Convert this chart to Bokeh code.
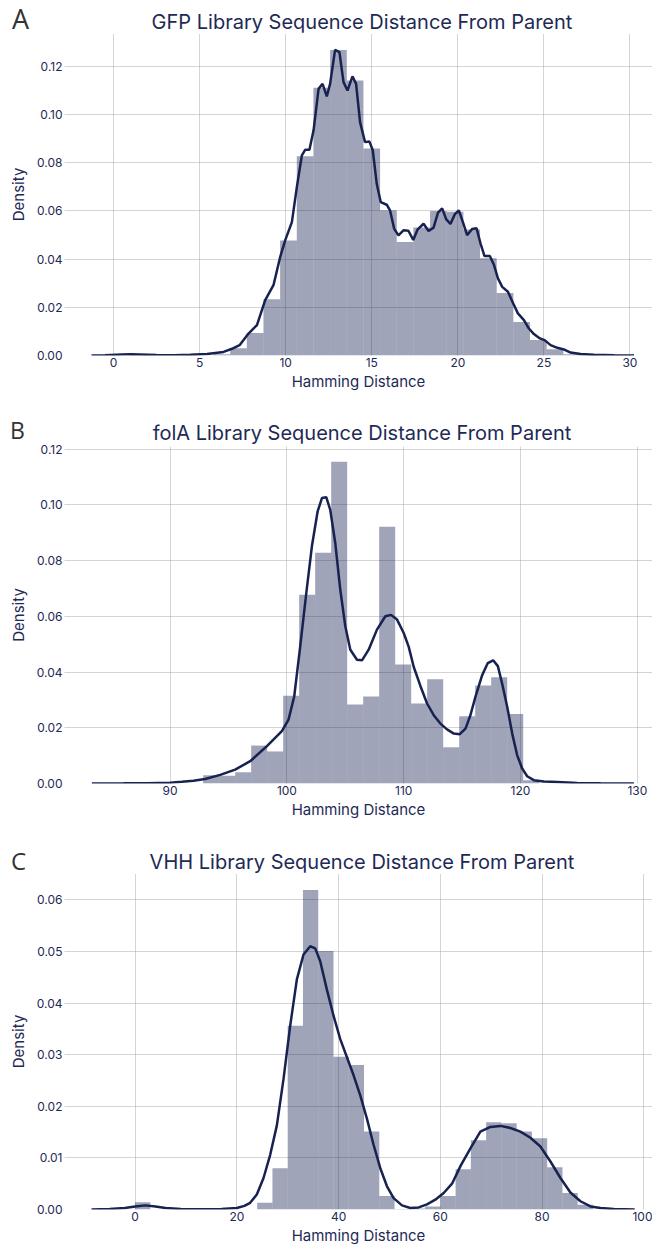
import numpy as np
from bokeh.plotting import figure
from bokeh.layouts import column
from bokeh.models import Range1d, FixedTicker, PrintfTickFormatter, Div
from bokeh.embed import file_html
from bokeh.resources import INLINE

# ---------------- Panel A: GFP ----------------
gfp_title = "GFP Library Sequence Distance From Parent"
gfp_bin_min, gfp_bin_max, gfp_n_bins = 0.0, 30.0, 31
gfp_density = [0.0, 0.0004, 0.0, 0.0, 0.0, 0.0, 0.0005, 0.0030, 0.0093, 0.0234,
               0.0478, 0.0827, 0.1112, 0.1269, 0.1142, 0.0860, 0.0603, 0.0471,
               0.0531, 0.0600, 0.0597, 0.0523, 0.0404, 0.0259, 0.0139, 0.0064,
               0.0026, 0.0005, 0.0002, 0.0, 0.0001]
gfp_kde_x = [-1.28, -0.5, 0.5, 1.0, 1.5, 2.5, 3.5, 4.46, 5.43, 6.39,
             6.88, 7.32, 7.84, 8.33, 8.81, 9.29, 9.68, 9.97, 10.36, 10.65,
             10.94, 11.13, 11.38, 11.62, 11.91, 12.14, 12.39, 12.58, 12.87, 13.12,
             13.36, 13.59, 13.88, 14.09, 14.32, 14.61, 14.86, 15.06, 15.29, 15.52,
             15.87, 16.06, 16.30, 16.55, 16.84, 17.13, 17.41, 17.67, 18.01, 18.30,
             18.59, 18.85, 19.09, 19.32, 19.57, 19.83, 20.06, 20.31, 20.54, 20.83,
             21.09, 21.32, 21.55, 21.86, 22.09, 22.33, 22.58, 22.91, 23.22, 23.49,
             23.84, 24.13, 24.42, 24.77, 25.04, 25.39, 25.78, 26.16, 26.55, 27.13,
             27.91, 29.07, 30.24]
gfp_kde_y = [0.0, 0.0001, 0.0004, 0.0005, 0.0004, 0.0002, 0.0001, 0.0003, 0.0006, 0.0015,
             0.0028, 0.0043, 0.0091, 0.0126, 0.0230, 0.0292, 0.0409, 0.0478, 0.0554, 0.0700,
             0.0831, 0.0854, 0.0854, 0.0935, 0.1107, 0.1128, 0.1076, 0.1128, 0.1269, 0.1260,
             0.1135, 0.1100, 0.1159, 0.1128, 0.0969, 0.0886, 0.0889, 0.0852, 0.0713, 0.0637,
             0.0626, 0.0603, 0.0527, 0.0499, 0.0520, 0.0518, 0.0480, 0.0524, 0.0547, 0.0517,
             0.0531, 0.0593, 0.0611, 0.0566, 0.0546, 0.0587, 0.0602, 0.0551, 0.0500, 0.0525,
             0.0528, 0.0465, 0.0413, 0.0413, 0.0378, 0.0320, 0.0285, 0.0265, 0.0216, 0.0175,
             0.0147, 0.0112, 0.0089, 0.0071, 0.0064, 0.0043, 0.0032, 0.0025, 0.0012, 0.0006,
             0.0003, 0.0001, 0.0]
gfp_xticks = [0, 5, 10, 15, 20, 25, 30]
gfp_yticks = [0.0, 0.02, 0.04, 0.06, 0.08, 0.10, 0.12]

# ---------------- Panel B: folA ----------------
fola_title = "folA Library Sequence Distance From Parent"
fola_bin_min, fola_bin_max, fola_n_bins = 92.83, 121.6, 21
fola_density = [0.0030, 0.0028, 0.0040, 0.0136, 0.0115, 0.0315, 0.0677, 0.0828,
                0.1154, 0.0283, 0.0312, 0.0921, 0.0427, 0.0287, 0.0374, 0.0130,
                0.0241, 0.0352, 0.0381, 0.0249, 0.0012]
fola_kde_x = [83.3, 86, 88, 90, 91, 92, 93, 94.29, 95.57, 96.86,
              98.29, 99.57, 100.14, 100.63, 101.14, 101.66, 102.14, 102.63, 103.0, 103.37,
              103.71, 104.14, 104.57, 105.0, 105.43, 106.0, 106.43, 107.0, 107.71, 108.43,
              108.91, 109.43, 110.0, 110.43, 110.86, 111.43, 112.0, 112.57, 113.14, 113.71,
              114.29, 114.8, 115.29, 115.71, 116.14, 116.71, 117.2, 117.66, 118.06, 118.43,
              118.86, 119.29, 119.71, 120.14, 120.57, 121.14, 122.0, 123.14, 124.86, 126.86,
              129.71]
fola_kde_y = [0.0, 0.00005, 0.0001, 0.0003, 0.0006, 0.0010, 0.0016, 0.0031, 0.0050, 0.0080,
              0.0134, 0.0188, 0.0229, 0.0313, 0.0492, 0.0683, 0.0851, 0.0976, 0.1024, 0.1027,
              0.0982, 0.0863, 0.0695, 0.0564, 0.0480, 0.0444, 0.0442, 0.0480, 0.0552, 0.0600,
              0.0605, 0.0588, 0.0540, 0.0490, 0.0418, 0.0350, 0.0287, 0.0245, 0.0215, 0.0194,
              0.0179, 0.0177, 0.0197, 0.0245, 0.0311, 0.0388, 0.0432, 0.0442, 0.0421, 0.0358,
              0.0275, 0.0179, 0.0102, 0.0054, 0.0026, 0.0012, 0.0007, 0.0005, 0.0002, 0.0001,
              0.0]
fola_xticks = [90, 100, 110, 120, 130]
fola_yticks = [0.0, 0.02, 0.04, 0.06, 0.08, 0.10, 0.12]

# ---------------- Panel C: VHH ----------------
vhh_title = "VHH Library Sequence Distance From Parent"
vhh_bin_min, vhh_bin_max, vhh_n_bins = 0.0, 90.0, 30
vhh_density = [0.0014, 0.0, 0.0, 0.0, 0.0, 0.0, 0.0, 0.0, 0.0013, 0.0080,
               0.0356, 0.0619, 0.0501, 0.0296, 0.0280, 0.0151, 0.0026, 0.0001,
               0.0002, 0.0006, 0.0026, 0.0078, 0.0134, 0.0169, 0.0167, 0.0151,
               0.0138, 0.0082, 0.0032, 0.0009]
vhh_kde_x = [-8.56, -5, -2, 0, 2, 4, 6, 9, 13, 17,
             20, 21.5, 22.62, 23.93, 25.25, 26.56, 27.87, 29.18, 30.49, 31.8,
             33.11, 34.43, 35.41, 36.39, 37.7, 39.02, 40.33, 41.64, 42.95, 44.26,
             45.57, 46.89, 48.2, 49.51, 50.82, 52.46, 54.1, 55.74, 57.38, 59.02,
             60.66, 62.3, 64.0, 66.0, 67.87, 69.84, 71.8, 73.77, 75.74, 77.7,
             79.67, 81.64, 83.61, 85.57, 87.54, 89.51, 91.48, 94.1, 98.2]
vhh_kde_y = [0.0, 0.0001, 0.0003, 0.0006, 0.0008, 0.0006, 0.0003, 0.0001, 0.00005, 0.0001,
             0.0003, 0.0007, 0.0013, 0.0029, 0.0061, 0.0106, 0.0163, 0.0253, 0.0356, 0.0446,
             0.0494, 0.0510, 0.0506, 0.0481, 0.0426, 0.0375, 0.0330, 0.0295, 0.0260, 0.0221,
             0.0176, 0.0125, 0.0080, 0.0045, 0.0022, 0.0008, 0.0003, 0.0004, 0.0010, 0.0019,
             0.0032, 0.0050, 0.0085, 0.0120, 0.0151, 0.0160, 0.0162, 0.0158, 0.0151, 0.0139,
             0.0122, 0.0093, 0.0061, 0.0033, 0.0016, 0.0006, 0.0003, 0.0001, 0.0]
vhh_xticks = [0, 20, 40, 60, 80, 100]
vhh_yticks = [0.0, 0.01, 0.02, 0.03, 0.04, 0.05, 0.06]

# ---------------- styling ----------------
NAVY = "#172250"
TEXT = "#1e2a55"
BAR = "#0f1c4d"
FONT = "Inter"
W = 652


def header(height, letter, letter_size, letter_left, letter_top, title, title_top):
    html = (
        f'<div style="position:relative;width:{W}px;height:{height}px;overflow:visible;">'
        f'<div style="position:absolute;left:{letter_left}px;top:{letter_top}px;'
        f'font-family:\'Open Sans\';font-size:{letter_size}px;line-height:1;color:#333333;'
        f'white-space:nowrap;">{letter}</div>'
        f'<div style="position:absolute;left:62px;width:600px;text-align:center;top:{title_top}px;'
        f'font-family:{FONT};font-size:20px;line-height:1;color:{TEXT};white-space:nowrap;">'
        f'{title}</div></div>'
    )
    return Div(text=html, width=W, height=height, margin=(0, 0, 0, 0),
               styles={"overflow": "visible"})


def make_panel(height, b_top, b_bottom, xr, yr, xticks, yticks,
               bmin, bmax, nbins, dens, kx, ky):
    p = figure(width=W, height=height, output_backend="svg", toolbar_location=None,
               x_range=Range1d(*xr), y_range=Range1d(*yr), title=None,
               min_border_left=64, min_border_right=0,
               min_border_top=b_top, min_border_bottom=b_bottom)
    edges = np.linspace(bmin, bmax, nbins + 1)
    p.quad(left=edges[:-1], right=edges[1:], bottom=0, top=dens,
           fill_color=BAR, fill_alpha=0.4, line_color=None)
    p.line(kx, ky, line_color=NAVY, line_width=2.5)

    p.xaxis.ticker = FixedTicker(ticks=xticks)
    p.yaxis.ticker = FixedTicker(ticks=yticks)
    p.yaxis.formatter = PrintfTickFormatter(format="%.2f")
    for ax in (p.xaxis, p.yaxis):
        ax.axis_line_color = None
        ax.major_tick_line_color = None
        ax.minor_tick_line_color = None
        ax.major_tick_out = 0
        ax.major_tick_in = 0
        ax.minor_tick_out = 0
        ax.minor_tick_in = 0
        ax.major_label_text_font = FONT
        ax.major_label_text_font_size = "12px"
        ax.major_label_text_color = TEXT
        ax.axis_label_text_font = FONT
        ax.axis_label_text_font_size = "15px"
        ax.axis_label_text_font_style = "normal"
        ax.axis_label_text_color = TEXT
        ax.major_label_standoff = 2
    p.xaxis.axis_label = "Hamming Distance"
    p.yaxis.axis_label = "Density"
    p.xaxis.axis_label_standoff = 2
    p.yaxis.axis_label_standoff = 6
    for g in (p.xgrid, p.ygrid):
        g.grid_line_color = "#a8a8a8"
        g.grid_line_dash = "1 1"
        g.grid_line_width = 1
    p.outline_line_color = None
    p.background_fill_color = None
    p.border_fill_color = None
    return p


hA = header(32, "A", 27, 12, 5, gfp_title, 12)
pA = make_panel(368, 1, 45, (-2.85, 31.31), (0, 0.1337), gfp_xticks, gfp_yticks,
                gfp_bin_min, gfp_bin_max, gfp_n_bins, gfp_density, gfp_kde_x, gfp_kde_y)
hB = header(41, "B", 23, 10, 19, fola_title, 23)
pB = make_panel(387, 5, 45, (80.96, 131.3), (0, 0.1209), fola_xticks, fola_yticks,
                fola_bin_min, fola_bin_max, fola_n_bins, fola_density, fola_kde_x, fola_kde_y)
hC = header(42, "C", 24, 11, 21, vhh_title, 24)
pC = make_panel(377, 3, 35, (-13.87, 101.7), (0, 0.0651), vhh_xticks, vhh_yticks,
                vhh_bin_min, vhh_bin_max, vhh_n_bins, vhh_density, vhh_kde_x, vhh_kde_y)

layout = column(hA, pA, hB, pB, hC, pC, spacing=0)
open("out.html", "w").write(file_html(layout, INLINE))
